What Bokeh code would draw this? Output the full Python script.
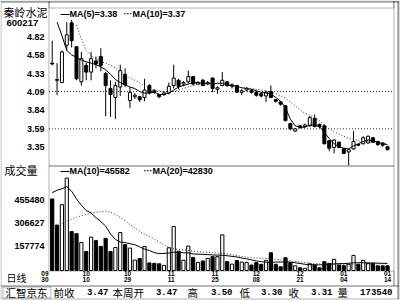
import numpy as np
from bokeh.plotting import figure
from bokeh.models import ColumnDataSource, Range1d, Label, BoxAnnotation
from bokeh.embed import file_html
from bokeh.resources import INLINE

# ---------------- data ----------------
STOCK_NAME = "秦岭水泥"
STOCK_CODE = "600217"

OPEN = [4.47, 4.25, 4.21, 4.71, 5.01, 4.69, 4.22, 4.44, 4.35, 4.50,
        4.56, 4.33, 4.13, 4.01, 4.15, 4.32, 3.97, 4.02, 4.02, 4.01,
        4.17, 4.10, 4.05, 4.05, 4.07, 4.17, 4.24, 4.19, 4.22, 4.29,
        4.19, 4.24, 4.19, 4.27, 4.12, 4.17, 4.22, 4.16, 4.17, 4.08,
        4.11, 4.10, 4.08, 4.06, 4.03, 4.09, 3.98, 3.95, 3.90, 3.66,
        3.56, 3.63, 3.62, 3.63, 3.73, 3.65, 3.63, 3.43, 3.34, 3.41,
        3.32, 3.28, 3.32, 3.38, 3.39, 3.40, 3.47, 3.42, 3.40, 3.35]
HIGH = [4.77, 4.47, 4.64, 5.02, 5.05, 4.70, 4.62, 4.48, 4.62, 4.56,
        4.67, 4.35, 4.24, 4.22, 4.45, 4.40, 4.15, 4.07, 4.03, 4.26,
        4.19, 4.12, 4.06, 4.09, 4.21, 4.45, 4.26, 4.23, 4.37, 4.30,
        4.23, 4.26, 4.23, 4.28, 4.16, 4.35, 4.23, 4.20, 4.18, 4.12,
        4.15, 4.12, 4.10, 4.08, 4.10, 4.17, 3.99, 3.96, 3.91, 3.67,
        3.60, 3.64, 3.66, 3.76, 3.78, 3.66, 3.65, 3.44, 3.45, 3.42,
        3.33, 3.32, 3.56, 3.39, 3.49, 3.50, 3.48, 3.43, 3.41, 3.36]
LOW = [4.44, 4.04, 4.20, 4.64, 4.68, 4.24, 4.17, 4.24, 4.24, 4.40,
       4.36, 3.76, 3.75, 3.72, 4.03, 4.15, 3.87, 3.99, 3.95, 3.96,
       4.05, 4.06, 4.00, 4.03, 4.05, 4.13, 4.12, 4.16, 4.20, 4.17,
       4.18, 4.16, 4.18, 4.08, 4.06, 4.16, 4.15, 4.13, 4.07, 4.04,
       4.09, 4.06, 4.02, 4.01, 3.95, 4.00, 3.94, 3.90, 3.69, 3.57,
       3.55, 3.59, 3.61, 3.62, 3.61, 3.60, 3.38, 3.29, 3.26, 3.33,
       3.25, 3.10, 3.31, 3.36, 3.38, 3.39, 3.40, 3.36, 3.35, 3.30]
CLOSE = [4.46, 4.24, 4.62, 4.85, 4.77, 4.26, 4.53, 4.35, 4.53, 4.46,
         4.44, 4.17, 4.05, 4.17, 4.37, 4.18, 4.08, 4.04, 3.98, 4.11,
         4.07, 4.08, 4.02, 4.07, 4.16, 4.27, 4.16, 4.21, 4.29, 4.19,
         4.21, 4.17, 4.21, 4.13, 4.14, 4.24, 4.17, 4.18, 4.08, 4.10,
         4.13, 4.08, 4.04, 4.03, 4.08, 4.01, 3.96, 3.92, 3.70, 3.59,
         3.59, 3.61, 3.64, 3.74, 3.62, 3.62, 3.39, 3.33, 3.44, 3.34,
         3.26, 3.31, 3.42, 3.37, 3.47, 3.49, 3.41, 3.38, 3.37, 3.31]
VOLUME = [460000, 292000, 423000, 594000, 250000, 237000, 180000, 122000, 214000, 192000,
          155000, 207000, 122000, 148000, 244000, 166000, 144000, 67000, 77000, 154000,
          49000, 46000, 43000, 33000, 146000, 283000, 124000, 66000, 157000, 84000,
          52000, 61000, 78000, 89000, 89000, 229000, 57000, 41000, 64000, 54000,
          52000, 35000, 51000, 40000, 65000, 114000, 40000, 24000, 82000, 50000,
          30000, 17000, 14000, 43000, 35000, 18000, 57000, 46000, 72000, 35000,
          31000, 40000, 97000, 40000, 65000, 46000, 46000, 30000, 30000, 30000]
MA5 = [np.nan, 5.02, 4.84, 4.64, 4.58, 4.55, 4.51, 4.49, 4.47, 4.45,
       4.42, 4.38, 4.32, 4.25, 4.21, 4.18, 4.15, 4.13, 4.09, 4.07,
       4.07, 4.08, 4.05, 4.05, 4.07, 4.11, 4.15, 4.17, 4.19, 4.21,
       4.21, 4.20, 4.20, 4.19, 4.20, 4.20, 4.18, 4.17, 4.16, 4.14,
       4.13, 4.12, 4.10, 4.08, 4.07, 4.06, 4.01, 3.96, 3.87, 3.72,
       3.63, 3.61, 3.61, 3.64, 3.64, 3.62, 3.54, 3.46, 3.39, 3.35,
       3.33, 3.32, 3.36, 3.39, 3.42, 3.44, 3.43, 3.41, 3.39, 3.38]
MA10 = [np.nan, np.nan, np.nan, np.nan, np.nan, 4.98, 4.80, 4.64, 4.57, 4.53,
        4.49, 4.47, 4.44, 4.41, 4.36, 4.31, 4.27, 4.24, 4.21, 4.16,
        4.13, 4.11, 4.10, 4.09, 4.08, 4.09, 4.11, 4.13, 4.15, 4.17,
        4.19, 4.19, 4.20, 4.20, 4.20, 4.19, 4.18, 4.17, 4.16, 4.14,
        4.14, 4.13, 4.12, 4.11, 4.10, 4.08, 4.06, 4.03, 4.00, 3.95,
        3.90, 3.84, 3.80, 3.77, 3.74, 3.70, 3.64, 3.59, 3.55, 3.52,
        3.49, 3.46, 3.45, 3.43, 3.42, 3.42, 3.41, 3.40, 3.39, 3.37]
VMA10 = [500000, 516000, 525000, 540000, 510000, 460000, 420000, 385000, 370000, 340000,
         315000, 285000, 235000, 200000, 183000, 179000, 172000, 166000, 152000, 138000,
         128000, 115000, 108000, 110000, 112000, 118000, 117000, 114000, 113000, 106000,
         105000, 104000, 102000, 100000, 99000, 98000, 95000, 91000, 87000, 80000,
         75000, 68000, 62000, 57000, 53000, 50000, 55000, 54000, 55000, 54000,
         50000, 45000, 40000, 38000, 37000, 36000, 38000, 40000, 42000, 44000,
         45000, 46000, 50000, 50000, 50000, 49000, 48000, 47000, 46000, 45582]
VMA20 = [262000, 283000, 300000, 318000, 332000, 342000, 352000, 360000, 368000, 374000,
         378000, 382000, 375000, 360000, 340000, 320000, 296000, 274000, 252000, 234000,
         218000, 202000, 185000, 165000, 150000, 140000, 135000, 133000, 130000, 124000,
         120000, 118000, 116000, 114000, 112000, 110000, 106000, 101000, 96000, 90000,
         86000, 83000, 80000, 78000, 77000, 76000, 72000, 68000, 64000, 61000,
         58000, 55000, 52000, 48000, 45000, 42000, 42000, 41000, 41000, 40000,
         40000, 40000, 41000, 41000, 42000, 42000, 42000, 43000, 43000, 42830]

PRICE_TICKS = [4.82, 4.58, 4.33, 4.09, 3.84, 3.59, 3.35]
PRICE_GRID = [4.09, 3.59]
VOL_TICKS = [455480, 306627, 157774]
DATE_POS = [-1.5, 7, 15.5, 24.5, 33.5, 42, 51, 60, 69]
DATE_MONTH = ["09", "10", "10", "11", "11", "12", "12", "01", "01"]
DATE_DAY = ["30", "10", "29", "11", "25", "08", "21", "04", "14"]
LEGEND_PRICE = ["—MA(5)=3.38", "···MA(10)=3.37"]
LEGEND_VOL = ["—MA(10)=45582", "···MA(20)=42830"]
PANEL_PRICE = "日线"
PANEL_VOL = "成交量"
SOURCE_NAME = "汇智京东"
SUMMARY_LABELS = ["前收", "本周开", "高", "低", "收", "量"]
SUMMARY_VALUES = ["3.47", "3.47", "3.50", "3.30", "3.31", "173540"]

assert all(len(a) == 70 for a in [OPEN, HIGH, LOW, CLOSE, VOLUME, MA5, MA10, VMA10, VMA20])

# ---------------- layout constants (pixels) ----------------
W, H = 400, 300
BAR0_PX, BAR_PX = 51.7, 4.86          # first bar centre, bar pitch
PANEL_L, PANEL_R = 48.5, 393.5
P_TOP, P_DIV, V_BOT = 7.5, 165.5, 270.5
REF_PRICE, REF_PRICE_PX, PX_PER_PRICE = 4.09, 91.0, 74.6
VOL_FULL = 675000.0                   # volume at the divider line
VOL_BASE_PX = 270.0

NUMFONT = "Liberation Sans"
MONO = "Liberation Mono"
CJK = "Noto Sans CJK SC"


def dx(px):
    return (px - BAR0_PX) / BAR_PX


def price_at(py):
    return REF_PRICE + (REF_PRICE_PX - py) / PX_PER_PRICE


def vol_at(py):
    return (VOL_BASE_PX - py) * VOL_FULL / (VOL_BASE_PX - 165.0)


# ---------------- build ----------------
N = len(OPEN)
idx = np.arange(N)
fill = ["white" if c >= o else "black" for o, c in zip(OPEN, CLOSE)]

src = ColumnDataSource(dict(
    x=idx, o=OPEN, h=HIGH, l=LOW, c=CLOSE,
    top=[max(o, c) for o, c in zip(OPEN, CLOSE)],
    bot=[min(o, c) for o, c in zip(OPEN, CLOSE)],
    vol=VOLUME, fill=fill,
    ma5=np.array(MA5, dtype=float), ma10=np.array(MA10, dtype=float),
    vma10=np.array(VMA10, dtype=float), vma20=np.array(VMA20, dtype=float),
))

p = figure(width=W, height=H,
           x_range=Range1d(dx(0), dx(W)),
           y_range=Range1d(price_at(H), price_at(0)),
           output_backend="svg", toolbar_location=None,
           x_axis_location=None, y_axis_location=None,
           min_border=0, min_border_left=0, min_border_right=0,
           min_border_top=0, min_border_bottom=0)
p.extra_y_ranges = {"vol": Range1d(vol_at(H), vol_at(0))}
p.background_fill_color = "white"
p.border_fill_color = "white"
p.outline_line_color = None
p.grid.visible = False

# dotted grid lines of the price panel
p.segment(x0=[dx(PANEL_L)] * len(PRICE_GRID), x1=[dx(PANEL_R)] * len(PRICE_GRID),
          y0=PRICE_GRID, y1=PRICE_GRID, line_color="#333333", line_width=1, line_dash="1 2")

# candles
p.segment(x0="x", y0="l", x1="x", y1="h", source=src, line_color="black", line_width=1)
p.vbar(x="x", width=0.62, top="top", bottom="bot", source=src,
       fill_color="fill", line_color="black", line_width=1)
p.line("x", "ma5", source=src, line_color="black", line_width=1)
p.line("x", "ma10", source=src, line_color="#333333", line_width=1, line_dash="1 2")

# volume
p.vbar(x="x", width=0.66, top="vol", bottom=0, source=src, y_range_name="vol",
       fill_color="fill", line_color="black", line_width=1)
p.line("x", "vma10", source=src, y_range_name="vol", line_color="black", line_width=1)
p.line("x", "vma20", source=src, y_range_name="vol", line_color="#333333",
       line_width=1, line_dash="1 2")


def text_px(cx, cy, text, font, size, bold=False, align="left"):
    p.add_layout(Label(x=cx, y=H - cy, x_units="screen", y_units="screen",
                       text=text, text_font=font, text_font_size=size,
                       text_font_style="bold" if bold else "normal",
                       text_align=align, text_baseline="middle", text_color="black"))


def line_px(x0, y0, x1, y1, w=1):
    p.add_layout(BoxAnnotation(left=x0, right=x1, top=H - y0, bottom=H - y1,
                               left_units="screen", right_units="screen",
                               top_units="screen", bottom_units="screen",
                               fill_color=None, fill_alpha=0, line_color="black",
                               line_width=w, level="overlay"))


# y tick labels (placed at data values)
for t in PRICE_TICKS:
    p.add_layout(Label(x=44, x_units="screen", y=t, y_units="data", text=f"{t:.2f}",
                       text_font=NUMFONT, text_font_style="bold", text_font_size="9px",
                       text_color="black", text_align="right", text_baseline="middle"))
for t in VOL_TICKS:
    p.add_layout(Label(x=44, x_units="screen", y=t, y_units="data", y_range_name="vol",
                       text=str(t), text_font=NUMFONT, text_font_style="bold",
                       text_font_size="9px", text_color="black",
                       text_align="right", text_baseline="middle"))
# date labels (placed at bar positions)
for pos, m, d in zip(DATE_POS, DATE_MONTH, DATE_DAY):
    for txt, cy in ((m, 273.0), (d, 279.0)):
        p.add_layout(Label(x=pos, x_units="data", y=H - cy, y_units="screen", text=txt,
                           text_font=NUMFONT, text_font_style="bold", text_font_size="6.5px",
                           text_color="black", text_align="center", text_baseline="middle"))

# texts
text_px(3, 11, STOCK_NAME, CJK, "11px")
text_px(6, 22, STOCK_CODE, NUMFONT, "9.5px", bold=True)
text_px(60, 13.5, LEGEND_PRICE[0], NUMFONT, "9px", bold=True)
text_px(123, 13.5, LEGEND_PRICE[1], NUMFONT, "9px", bold=True)
text_px(4, 169, PANEL_VOL, CJK, "11px")
text_px(60, 170.5, LEGEND_VOL[0], NUMFONT, "9px", bold=True)
text_px(143, 170.5, LEGEND_VOL[1], NUMFONT, "9px", bold=True)
text_px(6, 276.5, PANEL_PRICE, CJK, "10px")

text_px(5, 291.5, SOURCE_NAME, CJK, "10.5px")
lab_x = [53, 112, 187, 239, 288, 337]
val_x = [108, 177, 232, 282, 332, 392]
for lx, vx, lt, vt in zip(lab_x, val_x, SUMMARY_LABELS, SUMMARY_VALUES):
    text_px(lx, 291.5, lt, CJK, "10.5px")
    text_px(vx, 291.5, vt, MONO, "9px", bold=True, align="right")

# frame lines
line_px(0.5, 0.5, 398.5, 298.5)                 # outer border
line_px(0.5, 1.5, 398.5, 1.5)                   # heavier top
line_px(397.5, 0.5, 397.5, 298.5)               # heavier right
line_px(PANEL_L, P_TOP, PANEL_R, P_DIV)         # price panel
line_px(PANEL_L, P_DIV, PANEL_R, V_BOT)         # volume panel
line_px(PANEL_L, 0.5, PANEL_L, P_TOP)           # left column divider up to top
line_px(PANEL_R, 0.5, PANEL_R, P_TOP)           # right edge up to top
line_px(PANEL_R, V_BOT, PANEL_R, 285.5)
line_px(0.5, 285.5, 398.5, 285.5)               # summary row separator
line_px(2.5, 286.5, 50.5, 297.5)                # source box

open("out.html", "w").write(file_html(p, INLINE))
